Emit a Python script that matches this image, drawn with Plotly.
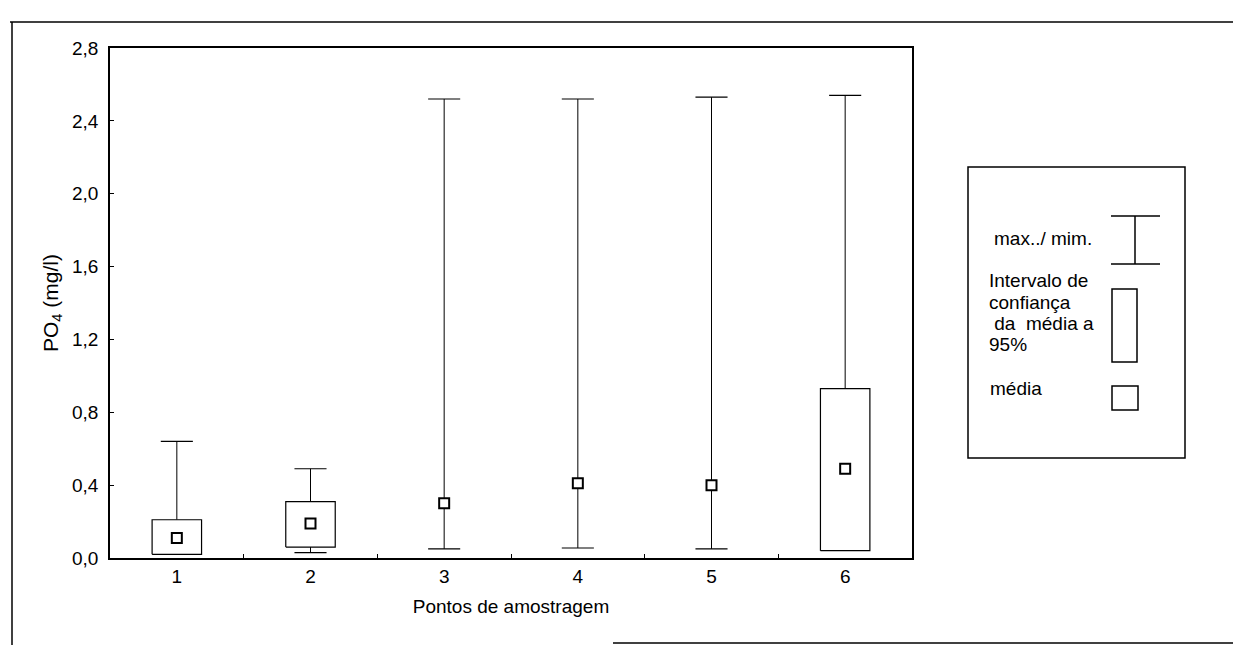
import plotly.graph_objects as go

# ---- data ----
points = [1, 2, 3, 4, 5, 6]
point_labels = ["1", "2", "3", "4", "5", "6"]
max_vals = [0.64, 0.49, 2.52, 2.52, 2.53, 2.54]
min_vals = [0.02, 0.03, 0.05, 0.055, 0.05, 0.04]
mean_vals = [0.11, 0.19, 0.30, 0.41, 0.40, 0.49]
ci_low = [0.02, 0.06, None, None, None, 0.04]
ci_high = [0.21, 0.31, None, None, None, 0.93]
y_ticks = [0.0, 0.4, 0.8, 1.2, 1.6, 2.0, 2.4, 2.8]
y_tick_labels = ["0,0", "0,4", "0,8", "1,2", "1,6", "2,0", "2,4", "2,8"]
legend_labels = ["max../ mim.", "Intervalo de", "confiança", " da  média a", "95%", "média"]

FONT = "Liberation Sans, Arial, sans-serif"
FS = 19
BOX_HALF = 0.185
CAP_HALF = 0.12

# ---- layout geometry (pixels) ----
W, H = 1233, 645
L, R, T, B = 110, 912, 48, 558

fig = go.Figure()

# whiskers (skip the part inside the CI box)
wx, wy = [], []
for i, x in enumerate(points):
    if ci_low[i] is None:
        wx += [x, x, None]; wy += [min_vals[i], max_vals[i], None]
    else:
        wx += [x, x, None, x, x, None]
        wy += [min_vals[i], ci_low[i], None, ci_high[i], max_vals[i], None]
fig.add_trace(go.Scatter(x=wx, y=wy, mode="lines",
                         line=dict(color="black", width=1), hoverinfo="skip", showlegend=False))

# caps
cx, cy = [], []
for i, x in enumerate(points):
    cx += [x - CAP_HALF, x + CAP_HALF, None]; cy += [max_vals[i], max_vals[i], None]
    if ci_low[i] is None or min_vals[i] < ci_low[i] - 0.005:
        cx += [x - CAP_HALF, x + CAP_HALF, None]; cy += [min_vals[i], min_vals[i], None]
fig.add_trace(go.Scatter(x=cx, y=cy, mode="lines",
                         line=dict(color="black", width=1.2), hoverinfo="skip", showlegend=False))

# CI boxes
for i, x in enumerate(points):
    if ci_low[i] is None:
        continue
    fig.add_trace(go.Scatter(
        x=[x - BOX_HALF, x + BOX_HALF, x + BOX_HALF, x - BOX_HALF, x - BOX_HALF],
        y=[ci_low[i], ci_low[i], ci_high[i], ci_high[i], ci_low[i]],
        mode="lines", fill="toself", fillcolor="white",
        line=dict(color="black", width=1.2), hoverinfo="skip", showlegend=False))

# means
fig.add_trace(go.Scatter(x=points, y=mean_vals, mode="markers",
                         marker=dict(symbol="square", size=10, color="white",
                                     line=dict(color="black", width=2)),
                         showlegend=False))

def px(xp):
    return (xp - L) / (R - L)

def py(yp):
    return (B - yp) / (B - T)

shapes = []
# page frame lines
shapes.append(dict(type="line", xref="paper", yref="paper", x0=px(10), x1=px(1233), y0=py(22), y1=py(22),
                   line=dict(color="black", width=1.5)))
shapes.append(dict(type="line", xref="paper", yref="paper", x0=px(12), x1=px(12), y0=py(22), y1=py(645),
                   line=dict(color="black", width=1.5)))
shapes.append(dict(type="line", xref="paper", yref="paper", x0=px(613), x1=px(1233), y0=py(643), y1=py(643),
                   line=dict(color="black", width=1.5)))
# legend box
shapes.append(dict(type="rect", xref="paper", yref="paper", x0=px(968), x1=px(1185), y0=py(167), y1=py(458),
                   line=dict(color="black", width=1.5), fillcolor="white"))
# legend symbols
shapes.append(dict(type="line", xref="paper", yref="paper", x0=px(1111), x1=px(1160), y0=py(216), y1=py(216),
                   line=dict(color="black", width=1.5)))
shapes.append(dict(type="line", xref="paper", yref="paper", x0=px(1111), x1=px(1160), y0=py(264), y1=py(264),
                   line=dict(color="black", width=1.5)))
shapes.append(dict(type="line", xref="paper", yref="paper", x0=px(1135), x1=px(1135), y0=py(216), y1=py(264),
                   line=dict(color="black", width=1.5)))
shapes.append(dict(type="rect", xref="paper", yref="paper", x0=px(1112), x1=px(1137), y0=py(289), y1=py(362),
                   line=dict(color="black", width=1.5)))
shapes.append(dict(type="rect", xref="paper", yref="paper", x0=px(1112), x1=px(1138), y0=py(386), y1=py(410),
                   line=dict(color="black", width=1.5)))

legend_pos = [(992, 238), (987, 280), (987, 302), (987, 323), (987, 345), (988, 388)]
annotations = []
for txt, (lx, ly) in zip(legend_labels, legend_pos):
    annotations.append(dict(text=txt.replace(" ", "&nbsp;") if txt.startswith(" ") else txt,
                            xref="paper", yref="paper", x=px(lx), y=py(ly),
                            xanchor="left", yanchor="middle", showarrow=False,
                            font=dict(family=FONT, size=FS, color="black")))

fig.update_layout(
    width=W, height=H,
    margin=dict(l=L, r=W - R, t=T, b=H - B),
    paper_bgcolor="white", plot_bgcolor="white",
    font=dict(family=FONT, size=FS, color="black"),
    shapes=shapes, annotations=annotations,
    showlegend=False,
)
fig.update_xaxes(
    range=[0.5, 6.5], tickmode="array", tickvals=points, ticktext=point_labels,
    showgrid=False, zeroline=False, showline=True, linecolor="black", linewidth=1.5, mirror=True,
    ticks="", tickfont=dict(family=FONT, size=FS, color="black"),
    title=dict(text="Pontos de amostragem", font=dict(family=FONT, size=FS, color="black"), standoff=14),
    minor=dict(tickvals=[1.5, 2.5, 3.5, 4.5, 5.5], ticks="inside", ticklen=4, tickcolor="black"),
)
fig.update_yaxes(
    range=[0, 2.8], tickmode="array", tickvals=y_ticks, ticktext=y_tick_labels,
    showgrid=False, zeroline=False, showline=True, linecolor="black", linewidth=1.5, mirror=True,
    ticks="inside", ticklen=4, tickcolor="black", tickfont=dict(family=FONT, size=FS, color="black"),
    ticklabelstandoff=6,
    title=dict(text="PO<sub>4</sub> (mg/l)", font=dict(family=FONT, size=21, color="black"), standoff=8),
)

fig.write_html("out.html", config={"displayModeBar": False},
               post_script="document.body.style.margin='0';document.body.style.overflow='hidden';")
